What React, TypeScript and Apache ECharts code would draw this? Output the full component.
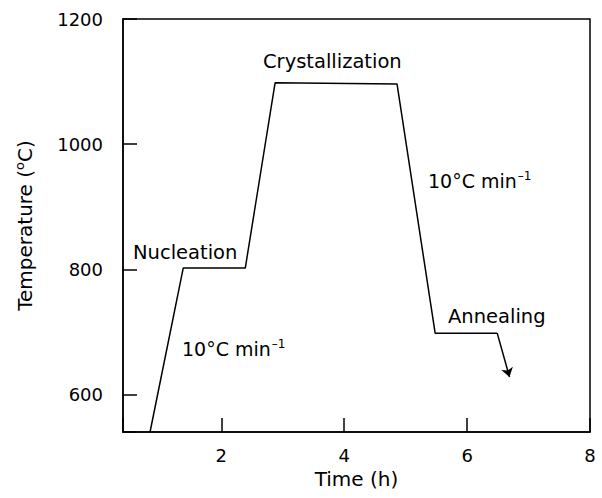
import { useEffect, useRef } from 'react';
import * as echarts from 'echarts';

// Heat-treatment profile
const timeH = [0.84, 1.38, 2.39, 2.875, 4.86, 5.48, 6.49];
const tempC = [540, 802, 802, 1098, 1096, 698, 698];
const arrowTip = [6.69, 628];
const xTickLabels = [2, 4, 6, 8];
const yTickLabels = [600, 800, 1000, 1200];

const FONT = '"DejaVu Sans", Verdana, sans-serif';

export default function App() {
  const ref = useRef<HTMLDivElement>(null);
  useEffect(() => {
    if (!ref.current) return;
    const chart = echarts.init(ref.current, undefined, { renderer: 'svg' });
    const profile = timeH.map((t, i) => [t, tempC[i]]);
    const last = profile[profile.length - 1];
    const rateRich = {
      a: { fontSize: 19, fontFamily: FONT, color: '#000', lineHeight: 22 },
      s: { fontSize: 12, fontFamily: FONT, color: '#000', verticalAlign: 'top', lineHeight: 22, padding: [0, 0, 8, 1] },
    };
    chart.setOption({
      animation: false,
      backgroundColor: '#fff',
      grid: { left: 123, top: 19, right: 12, bottom: 66, show: true, borderColor: '#000', borderWidth: 1.5 },
      xAxis: {
        type: 'value',
        min: 0.4,
        max: 8,
        splitNumber: 4,
        name: 'Time (h)',
        nameLocation: 'middle',
        nameGap: 31,
        nameTextStyle: { fontFamily: FONT, fontSize: 20, color: '#000' },
        axisLine: { lineStyle: { color: '#000', width: 1.5 } },
        axisTick: { inside: true, length: 14, lineStyle: { color: '#000', width: 1.5 } },
        axisLabel: {
          margin: 14,
          fontFamily: FONT,
          fontSize: 18,
          color: '#000',
          formatter: (v: number) => (xTickLabels.includes(v) ? String(v) : ''),
        },
        splitLine: { show: false },
      },
      yAxis: {
        type: 'value',
        min: 540,
        max: 1200,
        splitNumber: 3,
        name: '{a|Temperature (}{s|o}{a|C)}',
        nameLocation: 'middle',
        nameGap: 87,
        nameRotate: 90,
        nameTextStyle: {
          fontFamily: FONT,
          fontSize: 20,
          color: '#000',
          rich: {
            a: { fontFamily: FONT, fontSize: 20, color: '#000', lineHeight: 23 },
            s: { fontFamily: FONT, fontSize: 13, color: '#000', verticalAlign: 'top', lineHeight: 23, padding: [0, 0, 6, 0] },
          },
        },
        axisLine: { lineStyle: { color: '#000', width: 1.5 } },
        axisTick: { inside: true, length: 14, lineStyle: { color: '#000', width: 1.5 } },
        axisLabel: {
          margin: 20,
          fontFamily: FONT,
          fontSize: 18,
          color: '#000',
          formatter: (v: number) => (yTickLabels.includes(v) ? String(v) : ''),
        },
        splitLine: { show: false },
      },
      series: [
        {
          type: 'line',
          data: profile,
          showSymbol: false,
          symbol: 'none',
          lineStyle: { color: '#000', width: 1.5 },
        },
        {
          type: 'lines',
          coordinateSystem: 'cartesian2d',
          data: [{ coords: [last, arrowTip] }],
          symbol: ['none', 'arrow'],
          symbolSize: 9,
          lineStyle: { color: '#000', width: 1.5, opacity: 1 },
        },
      ],
      graphic: [
        { type: 'text', x: 263, y: 61, style: { text: 'Crystallization', font: `19.5px ${FONT}`, fill: '#000', verticalAlign: 'middle' } },
        { type: 'text', x: 133, y: 252, style: { text: 'Nucleation', font: `19.5px ${FONT}`, fill: '#000', verticalAlign: 'middle' } },
        { type: 'text', x: 448, y: 316, style: { text: 'Annealing', font: `19.5px ${FONT}`, fill: '#000', verticalAlign: 'middle' } },
        { type: 'text', x: 182, y: 349, style: { text: '{a|10°C min}{s|–1}', rich: rateRich, verticalAlign: 'middle' } },
        { type: 'text', x: 428, y: 181, style: { text: '{a|10°C min}{s|–1}', rich: rateRich, verticalAlign: 'middle' } },
      ],
    });
    return () => chart.dispose();
  }, []);
  return <div ref={ref} style={{ position: 'fixed', left: 0, top: 0, width: 602, height: 498 }} />;
}
